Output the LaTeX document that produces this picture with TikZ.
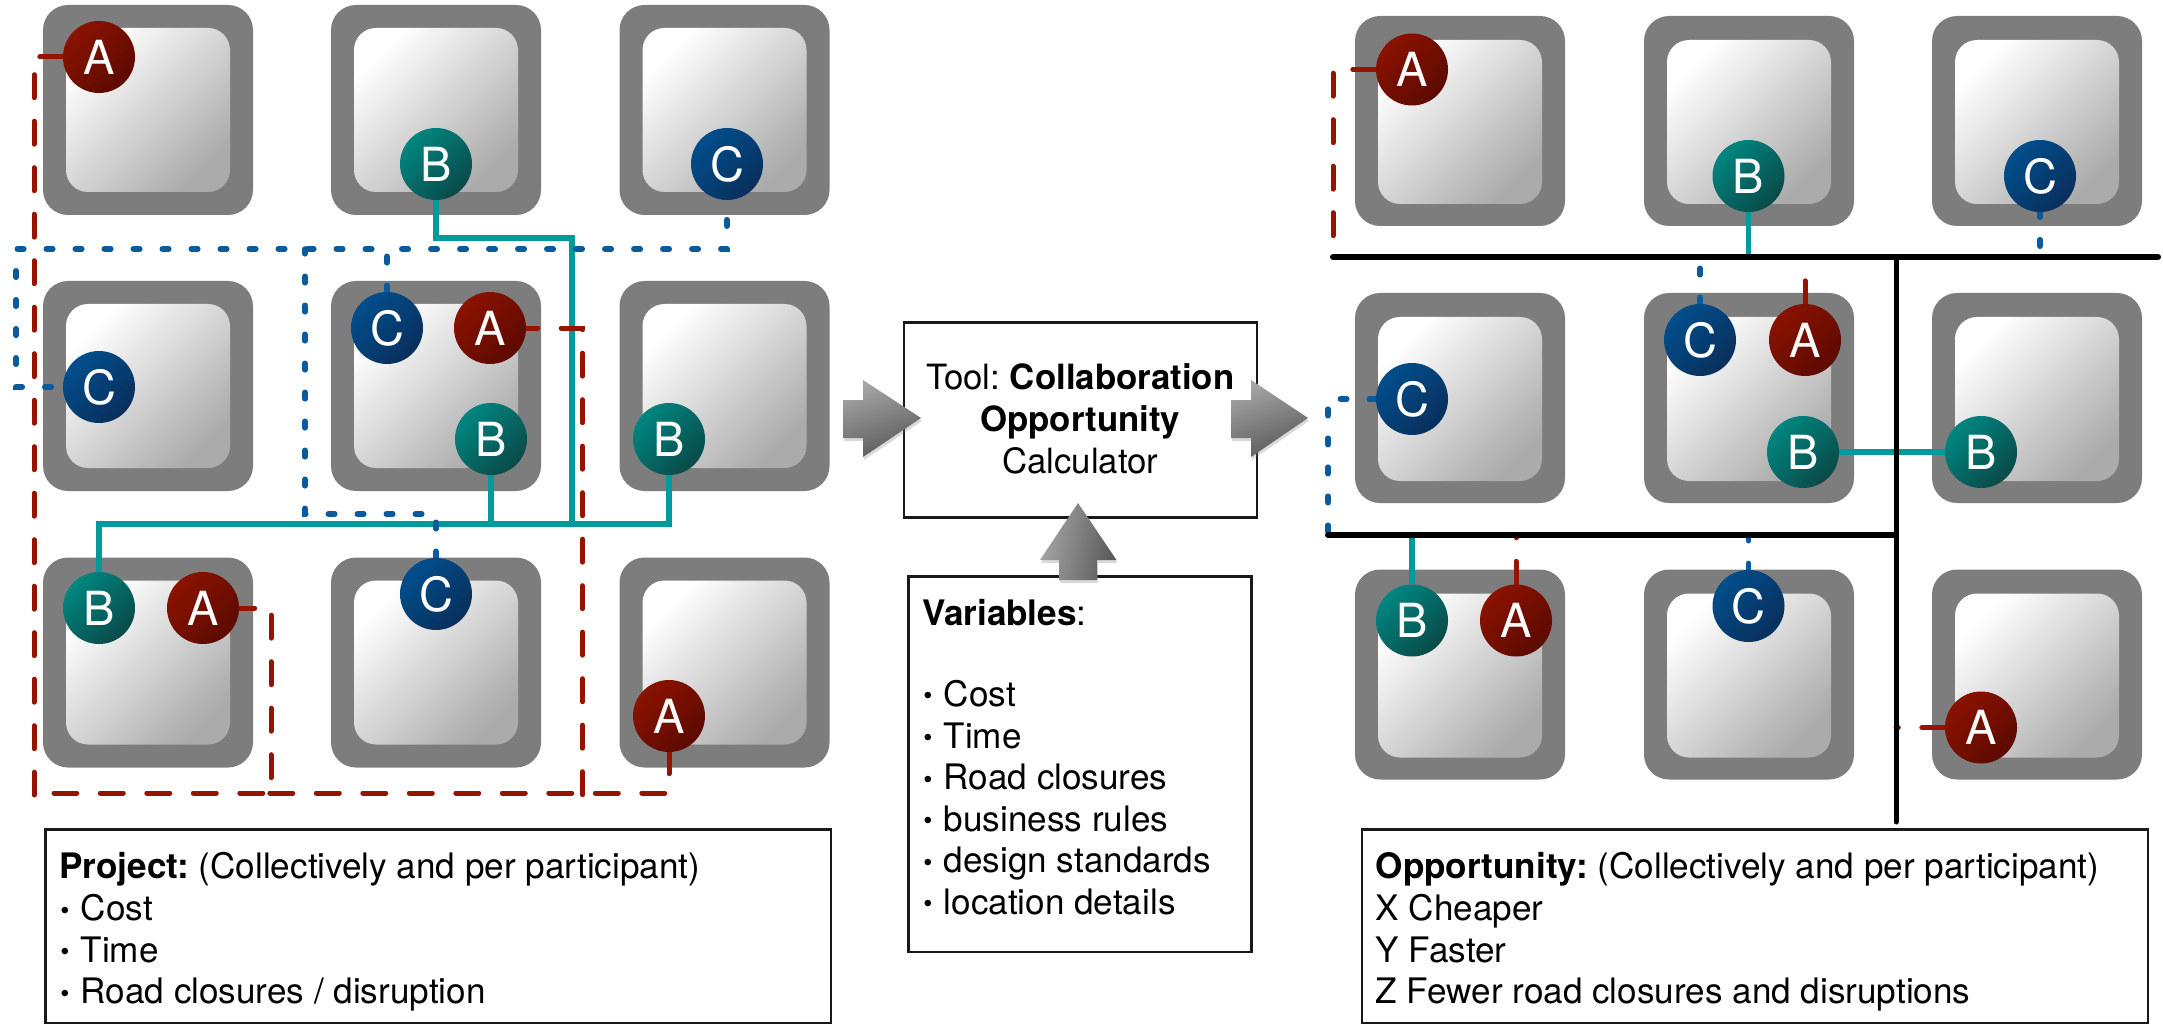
\documentclass[tikz,border=0pt]{standalone}
\usepackage{fontspec}
\setmainfont{TeX Gyre Heros}
\usetikzlibrary{shadows}
\pgfdeclarelayer{blocks}
\pgfdeclarelayer{conn}
\pgfsetlayers{blocks,conn,main}
\definecolor{cRed}{HTML}{951400}
\definecolor{cBlue}{HTML}{0A5A9C}
\definecolor{cTeal}{HTML}{009A9A}
\definecolor{blockgray}{HTML}{7D7D7D}
\definecolor{aTop}{HTML}{8A1200}
\definecolor{aBot}{HTML}{5C0A00}
\definecolor{bTop}{HTML}{008680}
\definecolor{bBot}{HTML}{0A4A48}
\definecolor{cTop}{HTML}{004E8C}
\definecolor{cBot}{HTML}{0A2F5C}
\newcommand{\tbox}[5]{\parbox[c][#2pt][t]{#1pt}{\frenchspacing\fontsize{35.1}{41.6}\selectfont\leftskip=#3pt\relax\rule{0pt}{#4pt}#5\par}}
\newcommand{\bul}{\makebox[21.5pt][l]{\hspace{1pt}\fontsize{26}{26}\selectfont\raisebox{1.5pt}{•}}}
\tikzset{
  outerblock/.style={rectangle,rounded corners=25pt,fill=blockgray,minimum width=210pt,minimum height=210pt,inner sep=0pt},
  innerblock/.style={rectangle,rounded corners=22pt,minimum width=164pt,minimum height=164pt,inner sep=0pt,
     top color=white,bottom color=black!33,shading angle=45},
  ball/.style={circle,minimum size=72pt,inner sep=0pt,text=white,font=\fontsize{47}{47}\selectfont},
  ballA/.style={ball,top color=aTop,bottom color=aBot,shading angle=45},
  ballB/.style={ball,top color=bTop,bottom color=bBot,shading angle=45},
  ballC/.style={ball,top color=cTop,bottom color=cBot,shading angle=45},
  linkred/.style={draw=cRed,line width=5pt,line cap=round,dash pattern=on 23pt off 23.5pt},
  linkblue/.style={draw=cBlue,line width=5.5pt,line cap=round,dash pattern=on 6.5pt off 22.5pt},
  linkteal/.style={draw=cTeal,line width=5.5pt,line join=miter},
  barline/.style={draw=black,line width=6pt,line cap=round},
  textbox/.style={draw=black!90,line width=2.5pt,rectangle,inner sep=0pt,anchor=north west},
  bigarrow/.style={top color=black!35,bottom color=black!65,drop shadow={shadow xshift=1pt,shadow yshift=-3pt,opacity=.3}},
}
\begin{document}
\begin{tikzpicture}[x=1pt,y=-1pt]
\useasboundingbox (0,0) rectangle (2163,1024);
% blocks
\begin{pgfonlayer}{blocks}
\foreach \c/\x in {1/148,2/436,3/724.5}{\foreach \r/\y in {1/110,2/386,3/662.5}{
  \node[outerblock] (L\r\c) at (\x,\y) {};
  \node[innerblock] (LI\r\c) at (\x,\y) {};
}}
\foreach \c/\x in {1/1460,2/1749,3/2037}{\foreach \r/\y in {1/121,2/398,3/674.5}{
  \node[outerblock] (R\r\c) at (\x,\y) {};
  \node[innerblock] (RI\r\c) at (\x,\y+1) {};
}}
\end{pgfonlayer}
% left balls
\node[ballA] (la1) at (99,57) {A};
\node[ballB] (lb1) at (436,164) {B};
\node[ballC] (lc1) at (727,164) {C};
\node[ballC] (lc2) at (99,387) {C};
\node[ballC] (lc3) at (387,328) {C};
\node[ballA] (la2) at (490,328) {A};
\node[ballB] (lb2) at (491,439) {B};
\node[ballB] (lb3) at (669,439) {B};
\node[ballB] (lb4) at (99,608) {B};
\node[ballA] (la3) at (203,608) {A};
\node[ballC] (lc4) at (436,594) {C};
\node[ballA] (la4) at (669,716) {A};
% right balls
\node[ballA] (ra1) at (1412,69.5) {A};
\node[ballB] (rb1) at (1748.5,176) {B};
\node[ballC] (rc1) at (2040,176) {C};
\node[ballC] (rc2) at (1412,399) {C};
\node[ballC] (rc3) at (1700,340) {C};
\node[ballA] (ra2) at (1805,340) {A};
\node[ballB] (rb2) at (1803,452) {B};
\node[ballB] (rb3) at (1981,452) {B};
\node[ballB] (rb4) at (1412,620.5) {B};
\node[ballA] (ra3) at (1516,620.5) {A};
\node[ballC] (rc4) at (1748.5,606) {C};
\node[ballA] (ra4) at (1981,727.5) {A};
% junction coordinates
\coordinate (jT1) at (572,238);
\coordinate (jT2) at (572,524);
\coordinate (jT4) at (669,524);
\coordinate (jT5) at (491,524);
\coordinate (jB1) at (16,249);
\coordinate (jB3) at (400,249);
\coordinate (jB5) at (436,514);
\coordinate (jB6) at (305,514);
\coordinate (jB7) at (305,249);
\coordinate (jA1) at (34,795);
\coordinate (jA2) at (271,793);
\coordinate (jA3) at (54,793);
\coordinate (jA4) at (582.5,795);
\coordinate (jA6) at (269,793);
\coordinate (hTop) at (1333,257);
\coordinate (hTopE) at (2158,257);
\coordinate (hMid) at (1328,535);
\coordinate (vTop) at (1896,257);
\coordinate (vMid) at (1896,535);
\coordinate (vEnd) at (1896,822);
% connectors under the balls
\begin{pgfonlayer}{conn}
\draw[linkteal] (lb1.south) |- (jT1) -- (jT2);
\draw[linkteal] (lb4.north) |- (jT4) -- (lb3.south);
\draw[linkteal] (lb2.south) -- (jT5);
\draw[linkblue,dash phase=0pt] (lc3.north) |- (jB1);
\draw[linkblue,dash phase=17.5pt] (lc2.west) -| (jB1);
\draw[linkblue,dash phase=9.5pt] (lc1.south) |- (jB3);
\draw[linkblue,dash phase=0pt] (lc4.north) -- (jB5) -- (jB6) -- (jB7);
\draw[linkred,dash phase=0pt] (la1.west) -| (jA1);
\draw[linkred,dash phase=7.5pt] (la3.east) -| (jA2) -- (jA3);
\draw[linkred,dash phase=11.5pt] (la2.east) -| (jA4);
\draw[linkred,dash phase=1.5pt] (la4.south) |- (jA6);
% right side
\draw[linkteal] (rb1.south) -- (rb1.south |- hTop);
\draw[linkteal] (rb4.north) -- (rb4.north |- hMid);
\draw[linkteal] (rb2.east) -- (rb3.west);
\draw[linkblue,dash phase=1.5pt] (rc1.south) -- (rc1.south |- hTop);
\draw[linkblue] (rc3.north) -- (rc3.north |- hTop);
\draw[linkblue,dash phase=0pt] (rc2.west) -| (hMid);
\draw[linkblue,dash phase=0pt] (rc4.north) -- (rc4.north |- hMid);
\draw[linkred] (ra1.west) -| (hTop);
\draw[linkred] (ra2.north) -- (ra2.north |- hTop);
\draw[linkred] (ra3.north) -- (ra3.north |- hMid);
\draw[linkred] (ra4.west) -- (ra4.west -| vTop);
\end{pgfonlayer}
% barriers
\draw[barline] (hTop) -- (hTopE);
\draw[barline] (hMid) -- (vMid);
\draw[barline,line width=5pt] (vTop) -- (vEnd);
% text boxes
\node[textbox] (project) at (44,828) {\tbox{785.5}{194}{14}{49.7}{\textbf{Project:} (Collectively and per participant)\\\bul Cost\\\bul Time\\\bul Road closures / disruption}};
\node[textbox] (opportunity) at (1360.5,828) {\tbox{786}{194}{14}{49.7}{\textbf{Opportunity:} (Collectively and per participant)\\X Cheaper\\Y Faster\\Z Fewer road closures and disruptions}};
\node[textbox] (tool) at (902.5,321.5) {\parbox[c][194.5pt][t]{353pt}{\centering\frenchspacing\fontsize{34.8}{42}\selectfont\rule{0pt}{67pt}Tool: \textbf{Collaboration}\\\textbf{Opportunity}\\Calculator\par}};
\node[textbox] (variables) at (907,575) {\tbox{343}{375.5}{14}{49}{\textbf{Variables}:\\[39.6pt]\bul Cost\\\bul Time\\\bul Road closures\\\bul business rules\\\bul design standards\\\bul location details}};
% block arrows
\shade[bigarrow,shading angle=20] (843,400) -- (863,400) -- (863,380) -- (921,418) -- (863,457) -- (863,438) -- (843,438) -- cycle;
\shade[bigarrow,shading angle=20] (1231,400) -- (1251,400) -- (1251,380) -- (1308,418) -- (1251,457) -- (1251,438) -- (1231,438) -- cycle;
\shade[bigarrow,shading angle=80] (1059,580) -- (1059,560) -- (1040,560) -- (1078,503) -- (1116.5,560) -- (1097,560) -- (1097,580) -- cycle;
\end{tikzpicture}
\end{document}
